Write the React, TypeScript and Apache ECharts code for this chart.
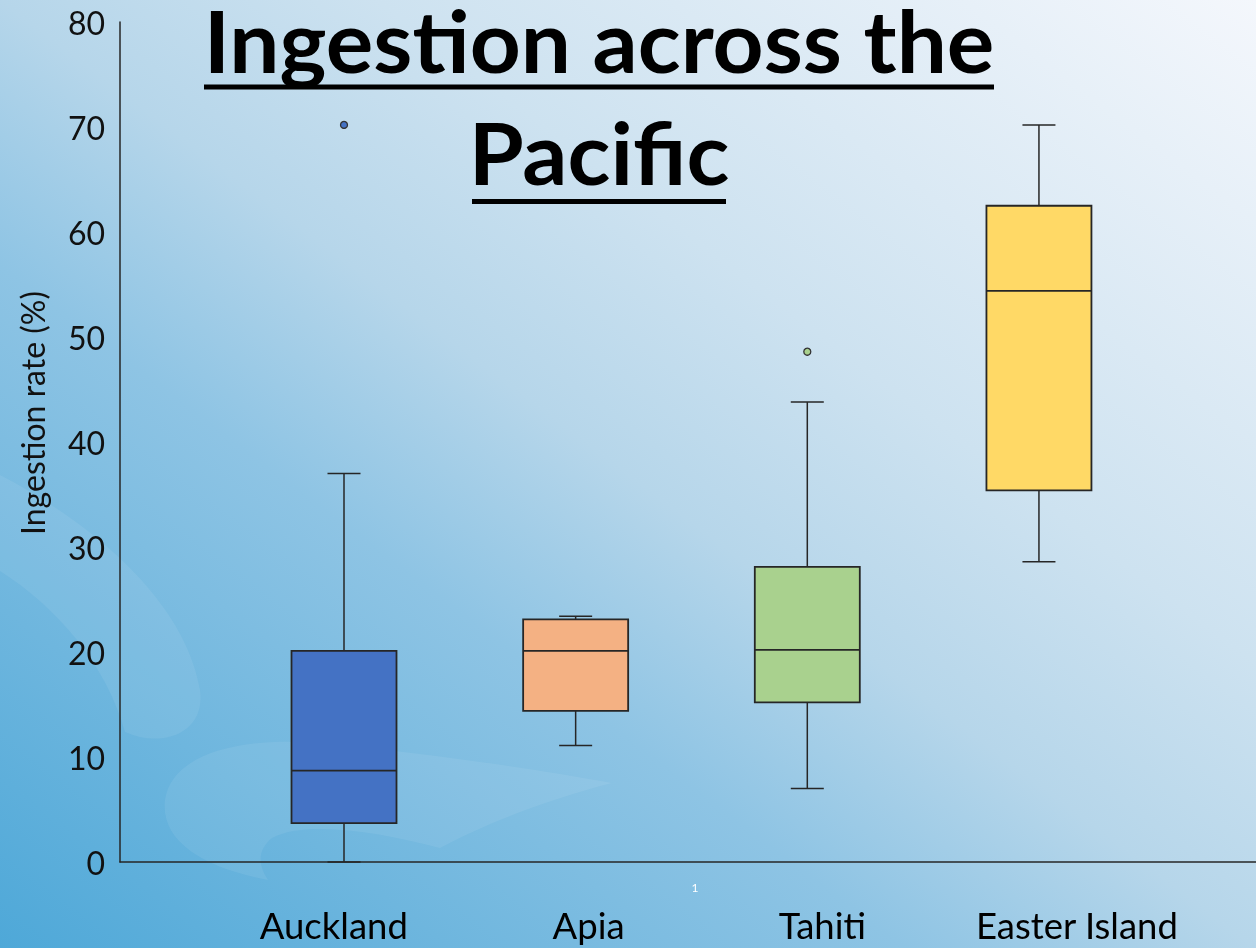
import { useEffect, useRef } from "react";
import * as echarts from "echarts";

// ---------- data ----------
const categories = ["Auckland", "Apia", "Tahiti", "Easter Island"];
const boxPosition = [1, 2, 3, 4];
const whiskerLow = [0, 11.1, 7.0, 28.6];
const quartile1 = [3.7, 14.4, 15.2, 35.4];
const medians = [8.7, 20.1, 20.2, 54.4];
const quartile3 = [20.1, 23.1, 28.1, 62.5];
const whiskerHigh = [37.0, 23.4, 43.8, 70.2];
const outlierCategory = [0, 2];
const outlierValues = [70.2, 48.6];
const yMin = 0;
const yMax = 80;
const yInterval = 10;

// ---------- layout / style ----------
const W = 1256;
const H = 948;
const X_MIN = 0.033;
const X_MAX = 4.937;
const labelShift = [-0.044, 0.056, 0.065, 0.164];
const boxColors = ["#4472C4", "#F4B183", "#A9D18E", "#FFD966"];
const BOX_WIDTH = 105;
const CAP_WIDTH = 33;
const LINE_COLOR = "#262626";
const FONT = "Lato, 'Open Sans', sans-serif";

// decorative background swirls (koru-like, very faint)
const SWIRL_A =
  "M -10 470 C 90 520 185 600 200 690 C 206 735 160 748 125 732 C 105 660 50 600 -10 565 Z";
const SWIRL_B =
  "M 165 800 C 172 752 245 735 330 744 C 430 754 530 768 612 783 C 545 800 480 826 440 848 C 380 832 305 820 272 838 C 255 852 260 868 268 880 C 205 868 160 842 165 800 Z";

echarts.graphic.registerShape("swirlA", echarts.graphic.extendPath(SWIRL_A, {}) as any);
echarts.graphic.registerShape("swirlB", echarts.graphic.extendPath(SWIRL_B, {}) as any);

export default function App() {
  const ref = useRef<HTMLDivElement>(null);

  useEffect(() => {
    if (!ref.current) return;
    const chart = echarts.init(ref.current, undefined, { renderer: "svg" });

    const boxData = categories.map((_, i) => [
      boxPosition[i],
      whiskerLow[i],
      quartile1[i],
      medians[i],
      quartile3[i],
      whiskerHigh[i],
    ]);
    const outlierData = outlierValues.map((v, k) => ({
      value: [boxPosition[outlierCategory[k]], v],
      itemStyle: { color: boxColors[outlierCategory[k]] },
    }));
    const labelPositions = boxPosition.map((p, i) => p + labelShift[i]);

    const option: any = {
      animation: false,
      grid: {
        left: 120,
        right: 0,
        top: 22,
        bottom: 86,
        containLabel: false,
        outerBoundsMode: "none",
      },
      xAxis: {
        type: "value",
        min: X_MIN,
        max: X_MAX,
        axisLine: { show: true, onZero: false, lineStyle: { color: LINE_COLOR, width: 1.5 } },
        axisTick: { show: false },
        splitLine: { show: false },
        axisLabel: {
          customValues: labelPositions,
          formatter: (v: number) => categories[Math.round(v) - 1] ?? "",
          margin: 45,
          fontSize: 36.5,
          lineHeight: 36,
          color: "#000",
          fontFamily: FONT,
        },
      },
      yAxis: {
        type: "value",
        min: yMin,
        max: yMax,
        interval: yInterval,
        axisLine: { show: true, lineStyle: { color: LINE_COLOR, width: 1.5 } },
        axisTick: { show: false },
        splitLine: { show: false },
        axisLabel: {
          margin: 15,
          fontSize: 32,
          color: "#111",
          fontFamily: FONT,
        },
      },
      graphic: [
        {
          type: "rect",
          z: -100,
          silent: true,
          shape: { x: 0, y: 0, width: W, height: H },
          style: {
            fill: new echarts.graphic.LinearGradient(0, 1, 1, 0, [
              { offset: 0, color: "#4ea8d8" },
              { offset: 0.36, color: "#8ec4e4" },
              { offset: 0.5, color: "#b6d6ea" },
              { offset: 0.65, color: "#cde2f0" },
              { offset: 1, color: "#f4f7fc" },
            ]),
          },
        },
        {
          type: "swirlA",
          z: -99,
          silent: true,
          x: 0,
          y: 0,
          scaleX: 1,
          scaleY: 1,
          style: { fill: "rgba(255,255,255,0.07)" },
        },
        {
          type: "swirlB",
          z: -99,
          silent: true,
          x: 0,
          y: 0,
          scaleX: 1,
          scaleY: 1,
          style: { fill: "rgba(255,255,255,0.07)" },
        },
        {
          type: "text",
          x: 599,
          y: 40,
          scaleX: 1.035,
          z: 10,
          style: {
            text: "Ingestion across the",
            font: `bold 86px ${FONT}`,
            fill: "#000",
            align: "center",
            verticalAlign: "middle",
          },
        },
        {
          type: "text",
          x: 599,
          y: 152,
          scaleX: 1.035,
          z: 10,
          style: {
            text: "Pacific",
            font: `bold 86px ${FONT}`,
            fill: "#000",
            align: "center",
            verticalAlign: "middle",
          },
        },
        {
          type: "rect",
          z: 10,
          shape: { x: 204, y: 84.5, width: 790, height: 5 },
          style: { fill: "#000" },
        },
        {
          type: "rect",
          z: 10,
          shape: { x: 472, y: 199, width: 254, height: 5 },
          style: { fill: "#000" },
        },
        {
          type: "text",
          x: 32,
          y: 413,
          rotation: Math.PI / 2,
          z: 10,
          style: {
            text: "Ingestion rate (%)",
            font: `32px ${FONT}`,
            fill: "#111",
            align: "center",
            verticalAlign: "middle",
          },
        },
        {
          type: "text",
          x: 695,
          y: 887,
          z: 10,
          style: {
            text: "1",
            font: `12px ${FONT}`,
            fill: "#ffffff",
            align: "center",
            verticalAlign: "middle",
          },
        },
      ],
      series: [
        {
          type: "custom",
          name: "Ingestion",
          data: boxData,
          encode: { x: 0, y: [1, 2, 3, 4, 5] },
          renderItem: (params: any, api: any) => {
            const x = api.value(0);
            const lo = api.coord([x, api.value(1)]);
            const q1 = api.coord([x, api.value(2)]);
            const med = api.coord([x, api.value(3)]);
            const q3 = api.coord([x, api.value(4)]);
            const hi = api.coord([x, api.value(5)]);
            const cx = lo[0];
            const hw = BOX_WIDTH / 2;
            const cw = CAP_WIDTH / 2;
            const ls = { stroke: LINE_COLOR, lineWidth: 1.5 };
            return {
              type: "group",
              children: [
                { type: "line", shape: { x1: cx, y1: hi[1], x2: cx, y2: q3[1] }, style: ls },
                { type: "line", shape: { x1: cx, y1: q1[1], x2: cx, y2: lo[1] }, style: ls },
                { type: "line", shape: { x1: cx - cw, y1: hi[1], x2: cx + cw, y2: hi[1] }, style: ls },
                { type: "line", shape: { x1: cx - cw, y1: lo[1], x2: cx + cw, y2: lo[1] }, style: ls },
                {
                  type: "rect",
                  shape: { x: cx - hw, y: q3[1], width: BOX_WIDTH, height: q1[1] - q3[1] },
                  style: { fill: boxColors[params.dataIndex], stroke: LINE_COLOR, lineWidth: 1.8 },
                },
                {
                  type: "line",
                  shape: { x1: cx - hw, y1: med[1], x2: cx + hw, y2: med[1] },
                  style: { stroke: LINE_COLOR, lineWidth: 1.8 },
                },
              ],
            };
          },
        },
        {
          type: "scatter",
          name: "Outliers",
          data: outlierData,
          symbol: "circle",
          symbolSize: 7,
          itemStyle: { borderColor: "#333", borderWidth: 1.3, opacity: 1 },
        },
      ],
    };

    chart.setOption(option);
    return () => chart.dispose();
  }, []);

  return (
    <div
      ref={ref}
      style={{ position: "fixed", left: 0, top: 0, width: W, height: H }}
    />
  );
}
